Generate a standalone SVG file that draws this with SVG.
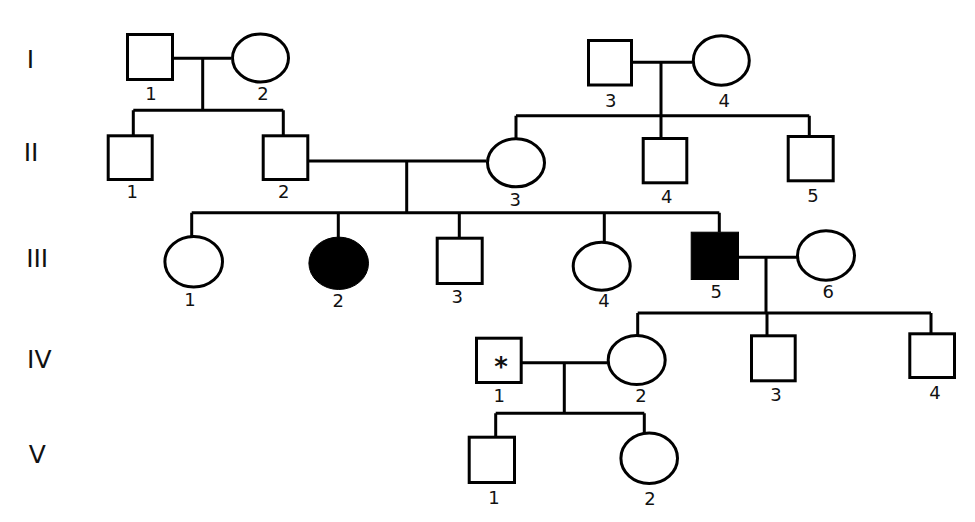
<svg xmlns="http://www.w3.org/2000/svg" width="975" height="522" viewBox="0 0 975 522">
<style>
.sym{fill:#fff;stroke:#000;stroke-width:3}
.aff{fill:#000;stroke:#000;stroke-width:1}
.ln{fill:none;stroke:#000;stroke-width:3}
.num{font-family:"DejaVu Sans",sans-serif;font-size:18px;fill:#111;text-anchor:middle}
.gen{font-family:"DejaVu Sans",sans-serif;font-size:25px;fill:#111;text-anchor:middle}
.ast{font-family:"DejaVu Sans",sans-serif;font-size:26px;font-weight:bold;fill:#111;text-anchor:middle}
</style>
<rect width="975" height="522" fill="#fff"/>
<g id="generations">
<text class="gen" x="30.5" y="68.3">I</text>
<text class="gen" x="31" y="160.7">II</text>
<text class="gen" x="37.2" y="267.3">III</text>
<text class="gen" x="39.3" y="368.3">IV</text>
<text class="gen" x="37.2" y="463.3">V</text>
</g>
<g id="connectors">
<path class="ln" d="M174 58.3H231M202.7 58.3V110.3M133.3 110.3H283.3M133.3 110.3V135M283.3 110.3V135"/>
<path class="ln" d="M631 62.3H692M661 62.3V138M516 115.7H809.3M516 115.7V138.5M809.3 115.7V136"/>
<path class="ln" d="M309 161H486.5M406.7 161V212.7M191.7 212.7H719.3M191.7 212.7V236M338.3 212.7V237M459.3 212.7V238M604.3 212.7V242M719.3 212.7V232"/>
<path class="ln" d="M739 257.3H797M766 257.3V313M637.7 313H931M637.7 313V335.5M767 313V336M931 313V334"/>
<path class="ln" d="M520 362.7H607.5M564.3 362.7V413.3M495.7 413.3H644.3M495.7 413.3V437M644.3 413.3V433"/>
</g>
<g id="I-1"><rect class="sym" x="127.5" y="34.5" width="45" height="45"/><text class="num" x="151" y="100">1</text></g>
<g id="I-2"><ellipse class="sym" cx="260.5" cy="58" rx="28" ry="24"/><text class="num" x="263" y="100">2</text></g>
<g id="I-3"><rect class="sym" x="588.5" y="40.5" width="43" height="44.5"/><text class="num" x="610.7" y="106.7">3</text></g>
<g id="I-4"><ellipse class="sym" cx="721.3" cy="60.5" rx="28" ry="24.7"/><text class="num" x="724.3" y="106.7">4</text></g>
<g id="II-1"><rect class="sym" x="108.2" y="135.8" width="44" height="43.7"/><text class="num" x="132.3" y="198.3">1</text></g>
<g id="II-2"><rect class="sym" x="263.2" y="135.8" width="44.6" height="43.7"/><text class="num" x="283.8" y="198.3">2</text></g>
<g id="II-3"><ellipse class="sym" cx="516" cy="162.8" rx="28.5" ry="24"/><text class="num" x="515.3" y="206">3</text></g>
<g id="II-4"><rect class="sym" x="643.2" y="138.5" width="43.6" height="44.3"/><text class="num" x="666.7" y="202.7">4</text></g>
<g id="II-5"><rect class="sym" x="788.2" y="136.5" width="45" height="44.3"/><text class="num" x="813" y="201.7">5</text></g>
<g id="III-1"><ellipse class="sym" cx="193.7" cy="261.7" rx="28.8" ry="25.2"/><text class="num" x="190" y="306">1</text></g>
<g id="III-2"><ellipse class="aff" cx="338.7" cy="263.3" rx="29.8" ry="26.2"/><text class="num" x="338.3" y="307.3">2</text></g>
<g id="III-3"><rect class="sym" x="437.2" y="238.2" width="45" height="45.3"/><text class="num" x="457.3" y="302.7">3</text></g>
<g id="III-4"><ellipse class="sym" cx="601.7" cy="266.2" rx="28.5" ry="24"/><text class="num" x="604" y="307.3">4</text></g>
<g id="III-5"><rect class="aff" x="691.2" y="232.2" width="47.3" height="47.3"/><text class="num" x="716.3" y="297.7">5</text></g>
<g id="III-6"><ellipse class="sym" cx="826" cy="255.5" rx="28.5" ry="24.7"/><text class="num" x="828.3" y="298">6</text></g>
<g id="IV-1"><rect class="sym" x="476.5" y="338.2" width="44.7" height="44.3"/><text class="ast" x="501" y="376">*</text><text class="num" x="499.3" y="401.7">1</text></g>
<g id="IV-2"><ellipse class="sym" cx="636.7" cy="360" rx="28.5" ry="24.5"/><text class="num" x="641" y="401.7">2</text></g>
<g id="IV-3"><rect class="sym" x="751.5" y="335.8" width="43.7" height="45"/><text class="num" x="776" y="401">3</text></g>
<g id="IV-4"><rect class="sym" x="909.8" y="333.8" width="44.7" height="43.7"/><text class="num" x="935" y="399">4</text></g>
<g id="V-1"><rect class="sym" x="469.2" y="437.2" width="45.3" height="45.3"/><text class="num" x="494" y="504">1</text></g>
<g id="V-2"><ellipse class="sym" cx="649.2" cy="458.3" rx="28.3" ry="25.2"/><text class="num" x="650" y="505">2</text></g>
</svg>
